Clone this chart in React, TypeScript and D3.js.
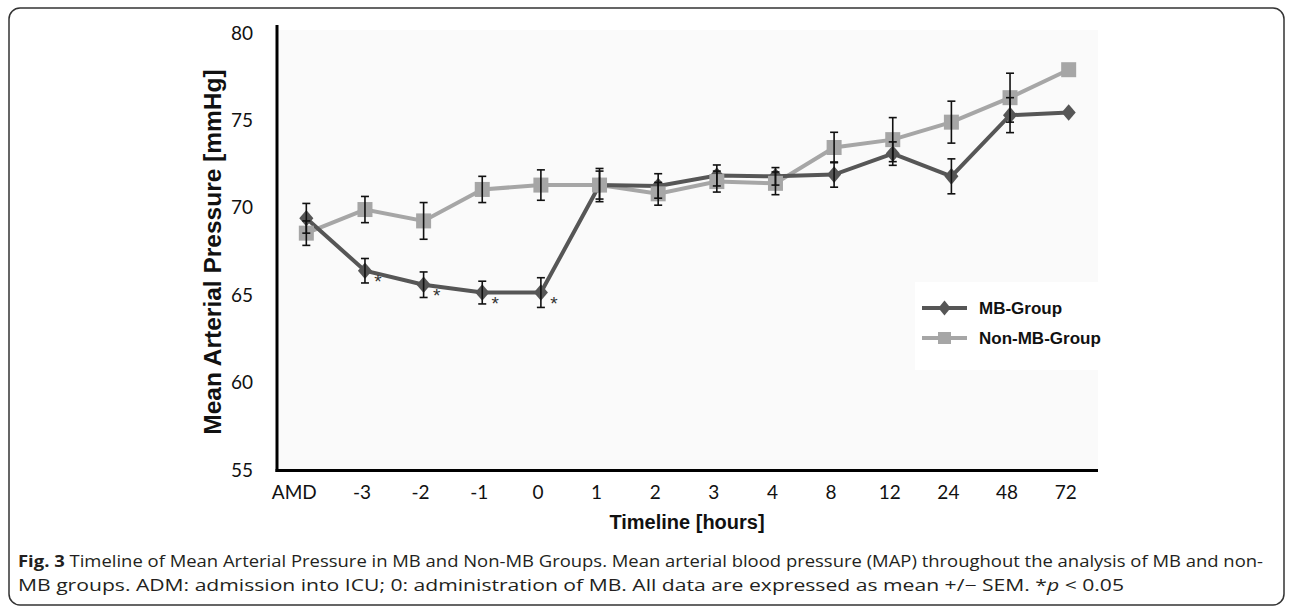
import { scalePoint, scaleLinear, line, symbol, symbolDiamond } from 'd3';

const width = 1292;
const height = 609;

// time points
const categories = ['AMD', '-3', '-2', '-1', '0', '1', '2', '3', '4', '8', '12', '24', '48', '72'];
// MB group mean and SEM
const mbMean = [69.4, 66.4, 65.6, 65.15, 65.15, 71.3, 71.25, 71.85, 71.8, 71.9, 73.1, 71.8, 75.3, 75.45];
const mbSem = [0.85, 0.7, 0.73, 0.65, 0.85, 0.95, 0.7, 0.6, 0.5, 0.72, 0.67, 1.0, 1.0, 0];
// Non-MB group mean and SEM
const nonMean = [68.55, 69.9, 69.25, 71.05, 71.3, 71.3, 70.8, 71.5, 71.4, 73.45, 73.9, 74.9, 76.3, 77.9];
const nonSem = [0.7, 0.75, 1.05, 0.75, 0.87, 0.8, 0.65, 0.6, 0.65, 0.87, 1.26, 1.2, 1.4, 0];
// p < 0.05 marks on MB group
const significant = [false, true, true, true, true, false, false, false, false, false, false, false, false, false];
const yTicks = [55, 60, 65, 70, 75, 80];

const mbColor = '#565656';
const nonColor = '#a6a6a6';

const x = scalePoint<string>().domain(categories).range([277, 1098]).padding(0.5);
const y = scaleLinear().domain([55, 80]).range([470, 33]);

const pathOf = (vals: number[]) =>
  line<number>()
    .x((_, i) => x(categories[i]) as number)
    .y(d => y(d))(vals) as string;

const diamond = (s: number) => symbol().type(symbolDiamond).size(s)() as string;

const ErrorBars = ({ means, sems }: { means: number[]; sems: number[] }) => (
  <g stroke="#111" strokeWidth={1.6} fill="none">
    {means.map((m, i) => {
      if (!sems[i]) return null;
      const cx = x(categories[i]) as number;
      const y1 = y(m + sems[i]);
      const y2 = y(m - sems[i]);
      return (
        <g key={i}>
          <line x1={cx} x2={cx} y1={y1} y2={y2} />
          <line x1={cx - 4} x2={cx + 4} y1={y1} y2={y1} />
          <line x1={cx - 4} x2={cx + 4} y1={y2} y2={y2} />
        </g>
      );
    })}
  </g>
);

const App = () => {
  return (
    <svg width={width} height={height} style={{ position: 'absolute', left: 0, top: 0 }}>
      <rect x={0} y={0} width={width} height={height} fill="#fff" />
      <rect x={9} y={8} width={1275} height={597} rx={11} fill="none" stroke="#333" strokeWidth={1.5} />

      {/* plot background */}
      <rect x={277} y={30} width={821} height={440} fill="#fafafa" />
      <rect x={915} y={282} width={183} height={88} fill="#fff" />

      {/* y ticks */}
      {yTicks.map(t => (
        <text key={t} x={253} y={y(t)} dy="0.35em" textAnchor="end" fontFamily="Lato, sans-serif" fontSize={19} fill="#111">
          {t}
        </text>
      ))}

      {/* x ticks */}
      {categories.map(c => (
        <text key={c} x={(x(c) as number) - (c === 'AMD' ? 12 : 3)} y={492} dy="0.35em" textAnchor="middle" fontFamily="Lato, sans-serif" fontSize={19} fill="#111">
          {c}
        </text>
      ))}

      {/* axis titles */}
      <text transform="translate(221,252) rotate(-90)" textAnchor="middle" fontFamily="Arial, 'Liberation Sans', sans-serif" fontWeight="bold" fontSize={24.5} fill="#111">
        Mean Arterial Pressure [mmHg]
      </text>
      <text x={687} y={529} textAnchor="middle" fontFamily="Arial, 'Liberation Sans', sans-serif" fontWeight="bold" fontSize={20} fill="#111">
        Timeline [hours]
      </text>

      {/* series lines */}
      <path d={pathOf(nonMean)} fill="none" stroke={nonColor} strokeWidth={4} />
      <path d={pathOf(mbMean)} fill="none" stroke={mbColor} strokeWidth={4} />

      {/* markers */}
      {mbMean.map((m, i) => (
        <path key={'d' + i} d={diamond(110)} transform={`translate(${x(categories[i])},${y(m)}) scale(1.25,0.85)`} fill={mbColor} />
      ))}
      {nonMean.map((m, i) => (
        <rect key={'s' + i} x={(x(categories[i]) as number) - 7.5} y={y(m) - 7.5} width={15} height={15} fill={nonColor} />
      ))}

      <ErrorBars means={mbMean} sems={mbSem} />
      <ErrorBars means={nonMean} sems={nonSem} />

      {/* significance */}
      {significant.map((s, i) =>
        s ? (
          <text key={'a' + i} x={(x(categories[i]) as number) + 13} y={y(mbMean[i]) + 17} textAnchor="middle" fontFamily="Arial, sans-serif" fontSize={19} fill="#333">
            *
          </text>
        ) : null
      )}

      {/* axes */}
      <line x1={277} x2={277} y1={25} y2={472} stroke="#000" strokeWidth={3} />
      <line x1={275.5} x2={1098} y1={470.5} y2={470.5} stroke="#000" strokeWidth={3} />

      {/* legend */}
      <g fontFamily="Arial, 'Liberation Sans', sans-serif" fontWeight="bold" fontSize={17} fill="#111">
        <line x1={922} x2={967} y1={308} y2={308} stroke={mbColor} strokeWidth={4} />
        <path d={diamond(90)} transform="translate(944.5,308) scale(1.2,0.85)" fill={mbColor} />
        <text x={979} y={308} dy="0.35em">MB-Group</text>
        <line x1={922} x2={967} y1={338} y2={338} stroke={nonColor} strokeWidth={4} />
        <rect x={938} y={332} width={13} height={12} fill={nonColor} />
        <text x={979} y={338} dy="0.35em">Non-MB-Group</text>
      </g>

      {/* caption */}
      <g fontFamily="'Open Sans', sans-serif" fontSize={16} fill="#231f20">
        <text x={18} y={567} textLength={1245} lengthAdjust="spacingAndGlyphs">
          <tspan fontWeight="bold">Fig. 3</tspan> Timeline of Mean Arterial Pressure in MB and Non-MB Groups. Mean arterial blood pressure (MAP) throughout the analysis of MB and non-
        </text>
        <text x={18} y={591} textLength={1106} lengthAdjust="spacingAndGlyphs">
          MB groups. ADM: admission into ICU; 0: administration of MB. All data are expressed as mean +/− SEM. *<tspan fontStyle="italic">p</tspan> &lt; 0.05
        </text>
      </g>
    </svg>
  );
};

export default App;
